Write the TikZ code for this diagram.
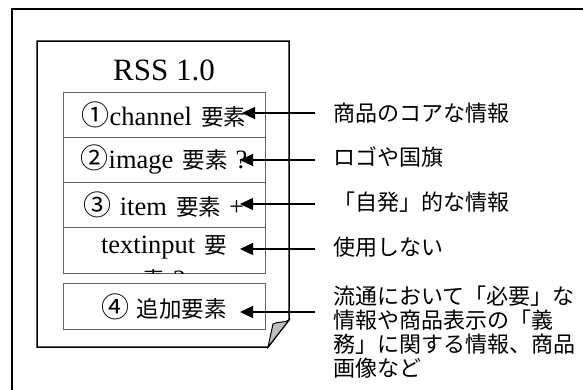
\documentclass[tikz,border=0pt]{standalone}
\usepackage{fontspec}
\setmainfont{Liberation Serif}
\newfontfamily\jp{Noto Sans CJK JP}
\usetikzlibrary{arrows.meta}
\newcommand{\jpr}[1]{{\jp\fontsize{22.5}{26}\selectfont #1}}
\newcommand{\circd}[1]{{\jp\fontsize{28}{26}\selectfont #1}}
\begin{document}
\begin{tikzpicture}[x=1pt,y=-1pt,
  rowbox/.style={draw=black!60, line width=0.9pt, minimum width=202pt, minimum height=45.25pt, inner sep=0pt, font=\fontsize{26.5}{29}\selectfont},
  lbl/.style={anchor=west, inner sep=0pt, font=\jp\fontsize{22}{24}\selectfont},
  arr/.style={line width=1.4pt, -{Triangle[length=13pt,width=12pt]}}]
\useasboundingbox (0,0) rectangle (583,389);
\fill[white] (0,0) rectangle (583,389);
% outer frame
\draw[line width=2pt] (12,395) -- (12,9) -- (590,9);
% document page with folded corner
\draw[line width=1.5pt, fill=white] (37,41) -- (289,41) -- (289,320) -- (268,347) -- (37,347) -- cycle;
\filldraw[fill=black!25, line width=1pt] (268,347) .. controls (270,336) .. (273,324) .. controls (280,321) and (285,323) .. (289,320) -- cycle;
% title
\node[font=\fontsize{31}{34}\selectfont, inner sep=0pt] (title) at (164,70) {RSS 1.0};
% rows
\node[rowbox] (r1) at (164,114.6) {\circd{①}channel\hspace{0.35em}\jpr{要素}};
\node[rowbox] (r2) at (164,159.9) {\circd{②}image\hspace{0.35em}\jpr{要素}\hspace{0.3em}?};
\node[rowbox] (r3) at (164,205.1) {\circd{③}\hspace{0.3em}item\hspace{0.35em}\jpr{要素}\hspace{0.3em}+};
\node[rowbox] (r4) at (164,250.4) {};
\node[font=\fontsize{26.5}{29}\selectfont, inner sep=0pt] (t4) at (164,247) {textinput\hspace{0.35em}\jpr{要}};
\begin{scope}
  \clip (r4.south west) rectangle (r4.north east);
  \node[font=\fontsize{26.5}{29}\selectfont, inner sep=0pt] (t4b) at (164,280) {\jpr{素}\hspace{0.3em}?};
\end{scope}
\node[rowbox] (r5) at (164,306.5) {\circd{④}\hspace{0.3em}\jpr{追加要素}};
% labels
\node[lbl] (l1) at (333,113) {商品のコアな情報};
\node[lbl] (l2) at (333,157) {ロゴや国旗};
\node[lbl] (l3) at (333,202) {「自発」的な情報};
\node[lbl] (l4) at (333,247) {使用しない};
\node[lbl, anchor=north west, align=left] (l5) at (333,286) {流通において「必要」な\\情報や商品表示の「義\\務」に関する情報、商品\\画像など};
% arrows
\coordinate (s1) at (315,113); \coordinate (p1) at (242,113);
\coordinate (s2) at (315,160); \coordinate (p2) at (240,160);
\coordinate (s3) at (315,204); \coordinate (p3) at (240,204);
\coordinate (s4) at (315,249); \coordinate (p4) at (240,249);
\coordinate (s5) at (315,312); \coordinate (p5) at (240,312);
\draw[arr] (s1) -- (p1);
\draw[arr] (s2) -- (p2);
\draw[arr] (s3) -- (p3);
\draw[arr] (s4) -- (p4);
\draw[arr] (s5) -- (p5);
\end{tikzpicture}
\end{document}
